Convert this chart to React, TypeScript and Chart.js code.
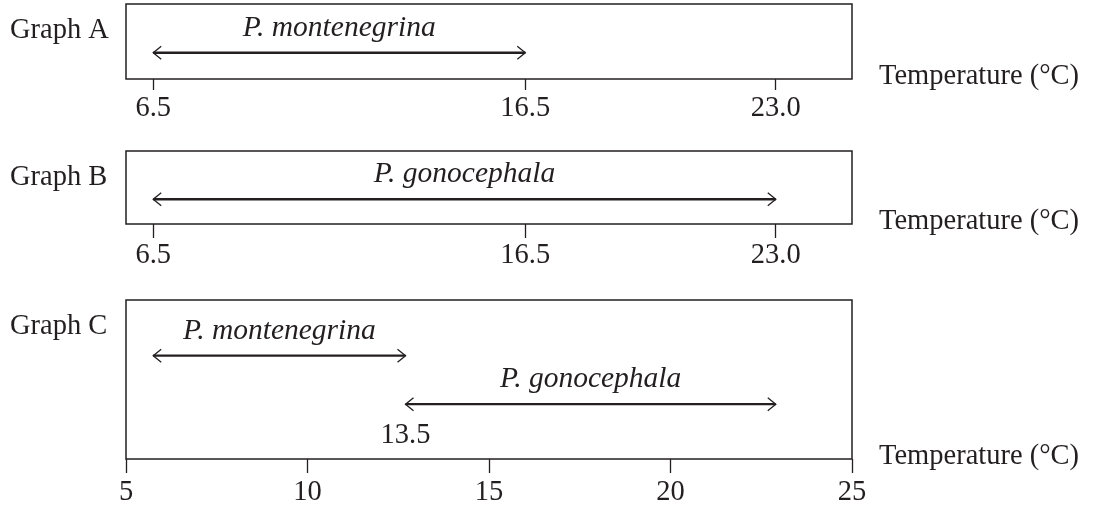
import { useEffect, useRef } from "react";
import { Chart, registerables } from "chart.js";

Chart.register(...registerables);

const FONT = "'Liberation Serif', 'Times New Roman', serif";
const INK = "#231f20";
const FONT_SIZE = 28.5;
const ITALIC_SIZE = 29.5;

// Scale (temperature, °C)
const xMin = 5;
const xMax = 25;
const axisTitle = "Temperature (°C)";

// Graph A
const nameA = "Graph A";
const speciesA = ["P. montenegrina"];
const rangeA = [[5.75, 16.0]];
const levelA = [0.35];
const tickPosA = [5.75, 16.0, 22.9];
const tickLabelsA = ["6.5", "16.5", "23.0"];

// Graph B
const nameB = "Graph B";
const speciesB = ["P. gonocephala"];
const rangeB = [[5.75, 22.9]];
const levelB = [0.34];
const tickPosB = [5.75, 16.0, 22.9];
const tickLabelsB = ["6.5", "16.5", "23.0"];

// Graph C
const nameC = "Graph C";
const speciesC = ["P. montenegrina", "P. gonocephala"];
const rangeC = [
  [5.75, 12.7],
  [12.7, 22.9],
];
const levelC = [0.65, 0.345];
const tickPosC = [5, 10, 15, 20, 25];
const tickLabelsC = ["5", "10", "15", "20", "25"];
const overlapPosC = 12.7;
const overlapLabelC = "13.5";

type PanelProps = {
  name: string;
  species: string[];
  ranges: number[][];
  levels: number[];
  tickPos: number[];
  tickLabels: string[];
  top: number;
  height: number;
  boxTop: number;
  boxBottom: number;
  tickLength: number;
  tickPadding: number;
  overlap?: { pos: number; text: string };
};

function Panel(p: PanelProps) {
  const ref = useRef<HTMLCanvasElement | null>(null);
  useEffect(() => {
    if (!ref.current) return;
    const axisHeight = p.tickLength + FONT_SIZE + 2 * p.tickPadding;
    const padBottom = p.height - p.boxBottom - axisHeight;
    const decor = {
      id: "decor",
      afterDatasetsDraw(chart: any) {
        const { ctx, chartArea } = chart;
        const { left, right, top, bottom } = chartArea;
        ctx.save();
        // frame
        ctx.strokeStyle = INK;
        ctx.lineWidth = 1.5;
        ctx.strokeRect(left, top, right - left, bottom - top);
        // arrowheads and species labels
        chart.data.datasets.forEach((ds: any, i: number) => {
          const meta = chart.getDatasetMeta(i);
          const a = meta.data[0];
          const b = meta.data[1];
          ctx.strokeStyle = INK;
          ctx.lineWidth = 1.3;
          ctx.lineJoin = "miter";
          const head = (x: number, y: number, dir: number) => {
            ctx.beginPath();
            ctx.moveTo(x - dir * 8, y - 6.5);
            ctx.lineTo(x, y);
            ctx.lineTo(x - dir * 8, y + 6.5);
            ctx.stroke();
          };
          head(a.x, a.y, -1);
          head(b.x, b.y, 1);
          ctx.fillStyle = INK;
          ctx.font = `italic ${ITALIC_SIZE}px ${FONT}`;
          ctx.textAlign = "center";
          ctx.textBaseline = "alphabetic";
          ctx.fillText(ds.label, (a.x + b.x) / 2, a.y - 17);
        });
        ctx.fillStyle = INK;
        ctx.textBaseline = "alphabetic";
        // overlap label
        if (p.overlap) {
          const xs = chart.scales.x.getPixelForValue(p.overlap.pos);
          const lastMeta = chart.getDatasetMeta(chart.data.datasets.length - 1);
          const y = lastMeta.data[0].y;
          ctx.font = `${FONT_SIZE}px ${FONT}`;
          ctx.textAlign = "center";
          ctx.fillText(p.overlap.text, xs, y + 39);
        }
        // graph name and axis title
        ctx.font = `${FONT_SIZE}px ${FONT}`;
        ctx.textAlign = "left";
        ctx.fillText(p.name, 10, top + 34);
        ctx.fillText(axisTitle, right + 27, bottom + 5);
        ctx.restore();
      },
    };
    const chart = new Chart(ref.current, {
      type: "line",
      data: {
        datasets: p.ranges.map((r, i) => ({
          label: p.species[i],
          data: [
            { x: r[0], y: p.levels[i] },
            { x: r[1], y: p.levels[i] },
          ],
          borderColor: INK,
          borderWidth: 2.4,
          pointRadius: 0,
          fill: false,
          tension: 0,
        })),
      },
      options: {
        animation: false,
        responsive: true,
        maintainAspectRatio: false,
        events: [],
        layout: {
          padding: { left: 126, right: 241, top: p.boxTop, bottom: padBottom },
        },
        plugins: {
          legend: { display: false },
          tooltip: { enabled: false },
        },
        scales: {
          x: {
            type: "linear",
            min: xMin,
            max: xMax,
            afterBuildTicks: (s: any) => {
              s.ticks = p.tickPos.map((v) => ({ value: v }));
            },
            ticks: {
              autoSkip: false,
              maxRotation: 0,
              padding: p.tickPadding,
              color: INK,
              font: { family: FONT, size: FONT_SIZE, lineHeight: 1 },
              callback: (_v: any, i: number) => p.tickLabels[i],
            },
            grid: {
              display: true,
              drawOnChartArea: false,
              drawTicks: true,
              tickLength: p.tickLength,
              tickWidth: 1.3,
              tickColor: INK,
            },
            border: { display: false },
          },
          y: { type: "linear", min: 0, max: 1, display: false },
        },
      },
      plugins: [decor],
    } as any);
    return () => chart.destroy();
  }, []);
  return (
    <div
      style={{
        position: "absolute",
        left: 0,
        top: p.top,
        width: 1093,
        height: p.height,
      }}
    >
      <canvas ref={ref} />
    </div>
  );
}

export default function App() {
  return (
    <div
      style={{
        position: "absolute",
        left: 0,
        top: 0,
        width: 1093,
        height: 508,
        background: "#fff",
        overflow: "hidden",
      }}
    >
      <Panel
        name={nameA}
        species={speciesA}
        ranges={rangeA}
        levels={levelA}
        tickPos={tickPosA}
        tickLabels={tickLabelsA}
        top={0}
        height={140}
        boxTop={4}
        boxBottom={79}
        tickLength={11}
        tickPadding={4}
      />
      <Panel
        name={nameB}
        species={speciesB}
        ranges={rangeB}
        levels={levelB}
        tickPos={tickPosB}
        tickLabels={tickLabelsB}
        top={140}
        height={150}
        boxTop={11}
        boxBottom={84}
        tickLength={14}
        tickPadding={3}
      />
      <Panel
        name={nameC}
        species={speciesC}
        ranges={rangeC}
        levels={levelC}
        tickPos={tickPosC}
        tickLabels={tickLabelsC}
        top={290}
        height={230}
        boxTop={10}
        boxBottom={169}
        tickLength={14}
        tickPadding={5}
        overlap={{ pos: overlapPosC, text: overlapLabelC }}
      />
    </div>
  );
}
